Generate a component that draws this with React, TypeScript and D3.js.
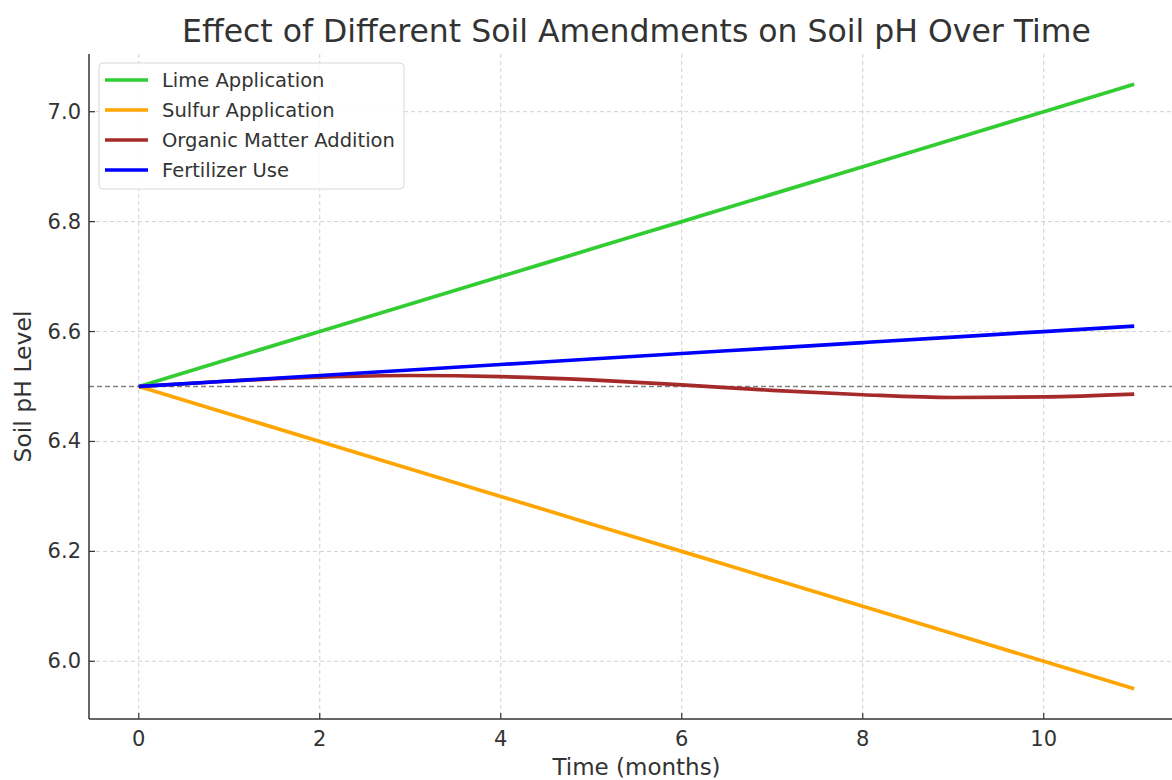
import { useEffect, useRef } from "react";
import * as d3 from "d3";

const months = [0, 1, 2, 3, 4, 5, 6, 7, 8, 9, 10, 11];
const limeValues = [6.5, 6.55, 6.6, 6.65, 6.7, 6.75, 6.8, 6.85, 6.9, 6.95, 7.0, 7.05];
const sulfurValues = [6.5, 6.45, 6.4, 6.35, 6.3, 6.25, 6.2, 6.15, 6.1, 6.05, 6.0, 5.95];
const organicValues = [6.5, 6.51, 6.517, 6.52, 6.518, 6.512, 6.503, 6.493, 6.485, 6.48, 6.481, 6.486];
const fertilizerValues = [6.5, 6.51, 6.52, 6.53, 6.54, 6.55, 6.56, 6.57, 6.58, 6.59, 6.6, 6.61];

const seriesNames = ["Lime Application", "Sulfur Application", "Organic Matter Addition", "Fertilizer Use"];
const seriesColors = ["#32cd32", "#ffa500", "#a52a2a", "#0000ff"];
const xTicks = [0, 2, 4, 6, 8, 10];
const yTicks = [6.0, 6.2, 6.4, 6.6, 6.8, 7.0];
const baseline = 6.5;

export default function App() {
  const svgRef = useRef<SVGSVGElement>(null);

  useEffect(() => {
    if (!svgRef.current) return;
    const svg = d3.select(svgRef.current);
    svg.selectAll("*").remove();

    const width = 1172;
    const height = 780;
    const left = 89, right = 1184, top = 54, bottom = 719;
    const font = "'DejaVu Sans', sans-serif";
    const ink = "#333333";

    const x = d3.scaleLinear().domain([-0.55, 11.55]).range([left, right]);
    const y = d3.scaleLinear().domain([5.895, 7.105]).range([bottom, top]);

    svg.attr("width", width).attr("height", height);
    svg.append("rect").attr("width", width).attr("height", height).attr("fill", "white");

    // grid
    xTicks.forEach((t) => {
      svg.append("line")
        .attr("x1", x(t)).attr("x2", x(t)).attr("y1", top).attr("y2", bottom)
        .attr("stroke", "#d0d0d0").attr("stroke-width", 1).attr("stroke-dasharray", "4,3");
    });
    yTicks.forEach((t) => {
      svg.append("line")
        .attr("x1", left).attr("x2", right).attr("y1", y(t)).attr("y2", y(t))
        .attr("stroke", "#d0d0d0").attr("stroke-width", 1).attr("stroke-dasharray", "4,3");
    });

    // baseline
    svg.append("line")
      .attr("x1", left).attr("x2", right).attr("y1", y(baseline)).attr("y2", y(baseline))
      .attr("stroke", "#808080").attr("stroke-width", 1.5).attr("stroke-dasharray", "5,3");

    // series
    const all = [limeValues, sulfurValues, organicValues, fertilizerValues];
    const line = d3.line<number>()
      .x((_, i) => x(months[i]))
      .y((v) => y(v))
      .curve(d3.curveMonotoneX);
    all.forEach((vals, i) => {
      svg.append("path")
        .attr("d", line(vals))
        .attr("fill", "none")
        .attr("stroke", seriesColors[i])
        .attr("stroke-width", 3.7)
        .attr("stroke-linecap", "butt")
        .attr("stroke-linejoin", "round");
    });

    // spines
    svg.append("line").attr("x1", left).attr("x2", left).attr("y1", top).attr("y2", bottom)
      .attr("stroke", ink).attr("stroke-width", 1.5);
    svg.append("line").attr("x1", left).attr("x2", right).attr("y1", bottom).attr("y2", bottom)
      .attr("stroke", ink).attr("stroke-width", 1.5);

    // ticks (inward)
    xTicks.forEach((t) => {
      svg.append("line").attr("x1", x(t)).attr("x2", x(t)).attr("y1", bottom).attr("y2", bottom - 6)
        .attr("stroke", ink).attr("stroke-width", 1.2);
      svg.append("text")
        .attr("x", x(t)).attr("y", bottom + 27)
        .attr("text-anchor", "middle")
        .attr("font-family", font).attr("font-size", 21).attr("fill", ink)
        .text(d3.format("d")(t));
    });
    yTicks.forEach((t) => {
      svg.append("line").attr("x1", left).attr("x2", left + 6).attr("y1", y(t)).attr("y2", y(t))
        .attr("stroke", ink).attr("stroke-width", 1.2);
      svg.append("text")
        .attr("x", left - 8).attr("y", y(t))
        .attr("text-anchor", "end").attr("dominant-baseline", "central")
        .attr("font-family", font).attr("font-size", 21).attr("fill", ink)
        .text(d3.format(".1f")(t));
    });

    // axis labels
    svg.append("text")
      .attr("x", (left + right) / 2).attr("y", 775)
      .attr("text-anchor", "middle")
      .attr("font-family", font).attr("font-size", 23).attr("fill", ink)
      .text("Time (months)");
    svg.append("text")
      .attr("transform", `translate(31,${(top + bottom) / 2}) rotate(-90)`)
      .attr("text-anchor", "middle")
      .attr("font-family", font).attr("font-size", 23.5).attr("fill", ink)
      .text("Soil pH Level");

    // title
    svg.append("text")
      .attr("x", (left + right) / 2).attr("y", 42)
      .attr("text-anchor", "middle")
      .attr("font-family", font).attr("font-size", 31.5).attr("fill", ink)
      .text("Effect of Different Soil Amendments on Soil pH Over Time");

    // legend
    const lg = svg.append("g").attr("transform", "translate(99,63)");
    lg.append("rect")
      .attr("width", 305).attr("height", 126).attr("rx", 4)
      .attr("fill", "white").attr("fill-opacity", 0.85)
      .attr("stroke", "#d8d8d8").attr("stroke-width", 1);
    seriesNames.forEach((name, i) => {
      const cy = 17 + i * 30;
      lg.append("line").attr("x1", 6).attr("x2", 49).attr("y1", cy).attr("y2", cy)
        .attr("stroke", seriesColors[i]).attr("stroke-width", 3.7);
      lg.append("text")
        .attr("x", 63).attr("y", cy)
        .attr("dominant-baseline", "central")
        .attr("font-family", font).attr("font-size", 19.5).attr("fill", ink)
        .text(name);
    });
  }, []);

  return (
    <div style={{ position: "absolute", left: 0, top: 0 }}>
      <svg ref={svgRef} style={{ display: "block" }} />
    </div>
  );
}
